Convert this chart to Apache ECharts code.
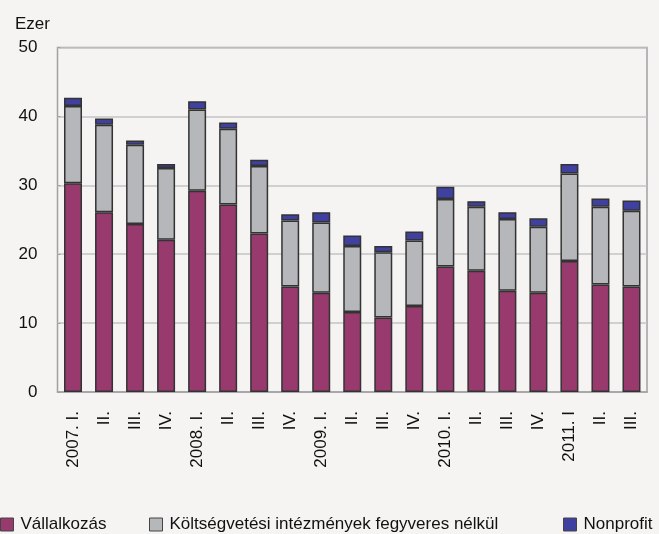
<!DOCTYPE html>
<html>
<head>
<meta charset="utf-8">
<script src="https://cdn.jsdelivr.net/npm/echarts@6/dist/echarts.min.js"></script>
<style>
  html, body { margin: 0; padding: 0; background: #f5f4f2; }
  #chart { width: 659px; height: 534px; }
</style>
</head>
<body>
<div id="chart"></div>
<script>
var categories = ['2007. I.', 'II.', 'III.', 'IV.', '2008. I.', 'II.', 'III.', 'IV.', '2009. I.', 'II.', 'III.', 'IV.', '2010. I.', 'II.', 'III.', 'IV.', '2011. I', 'II.', 'III.'];
var vallalkozas = [30.3, 26.1, 24.4, 22.1, 29.2, 27.2, 23.0, 15.3, 14.4, 11.6, 10.8, 12.5, 18.2, 17.6, 14.7, 14.4, 19.0, 15.6, 15.3];
var koltsegvetesi = [11.2, 12.7, 11.5, 10.4, 11.8, 11.0, 9.8, 9.6, 10.2, 9.6, 9.5, 9.5, 9.8, 9.3, 10.4, 9.6, 12.7, 11.3, 11.0];
var nonprofit = [1.2, 0.9, 0.6, 0.6, 1.2, 0.9, 0.9, 0.9, 1.5, 1.5, 0.9, 1.3, 1.8, 0.8, 1.0, 1.2, 1.4, 1.2, 1.5];
var yTicks = [0, 10, 20, 30, 40, 50];

var chart = echarts.init(document.getElementById('chart'));
var font = 'Liberation Sans, Arial, sans-serif';
var colors = ['#993a6e', '#b6b7bb', '#3f40a0'];

function legendItem(name, color, left) {
    return {
        data: [name],
        left: left,
        top: 516,
        padding: 0,
        itemWidth: 13,
        itemHeight: 13,
        itemGap: 0,
        icon: 'rect',
        textStyle: { fontFamily: font, fontSize: 17, color: '#111', padding: [0, 0, 0, 2] },
        itemStyle: { color: color, borderColor: '#444', borderWidth: 1 }
    };
}

function barSeries(name, data, color) {
    return {
        name: name,
        type: 'bar',
        stack: 'total',
        barWidth: '58%',
        data: data,
        itemStyle: { color: color, borderColor: '#333', borderWidth: 1.5 }
    };
}

var option = {
    backgroundColor: '#f5f4f2',
    animation: false,
    title: {
        text: 'Ezer',
        left: 10,
        top: 11,
        textStyle: { fontFamily: font, fontSize: 17, fontWeight: 'normal', color: '#111' }
    },
    legend: [
        legendItem('Vállalkozás', colors[0], 0),
        legendItem('Költségvetési intézmények fegyveres nélkül', colors[1], 149),
        legendItem('Nonprofit', colors[2], 563)
    ],
    grid: {
        left: 57.5,
        right: 12,
        top: 47.5,
        bottom: 142,
        show: true,
        borderColor: '#a0a0a4',
        borderWidth: 1.5
    },
    xAxis: {
        type: 'category',
        data: categories,
        axisLine: { show: true, lineStyle: { color: '#a0a0a4', width: 1.5 } },
        axisTick: { show: false },
        axisLabel: {
            rotate: 90,
            interval: 0,
            margin: 19,
            fontFamily: font,
            fontSize: 17,
            color: '#111'
        }
    },
    yAxis: {
        type: 'value',
        min: yTicks[0],
        max: yTicks[yTicks.length - 1],
        interval: 10,
        axisLine: { show: false },
        axisTick: { show: true, inside: true, length: 3, lineStyle: { color: '#a0a0a4' } },
        axisLabel: { margin: 20, fontFamily: font, fontSize: 17, color: '#111' },
        splitLine: { lineStyle: { color: '#c4c4c6', width: 1.5 } }
    },
    series: [
        barSeries('Vállalkozás', vallalkozas, colors[0]),
        barSeries('Költségvetési intézmények fegyveres nélkül', koltsegvetesi, colors[1]),
        barSeries('Nonprofit', nonprofit, colors[2])
    ]
};

chart.setOption(option);
window.onresize = function () {
    chart.resize();
};
</script>
</body>
</html>
